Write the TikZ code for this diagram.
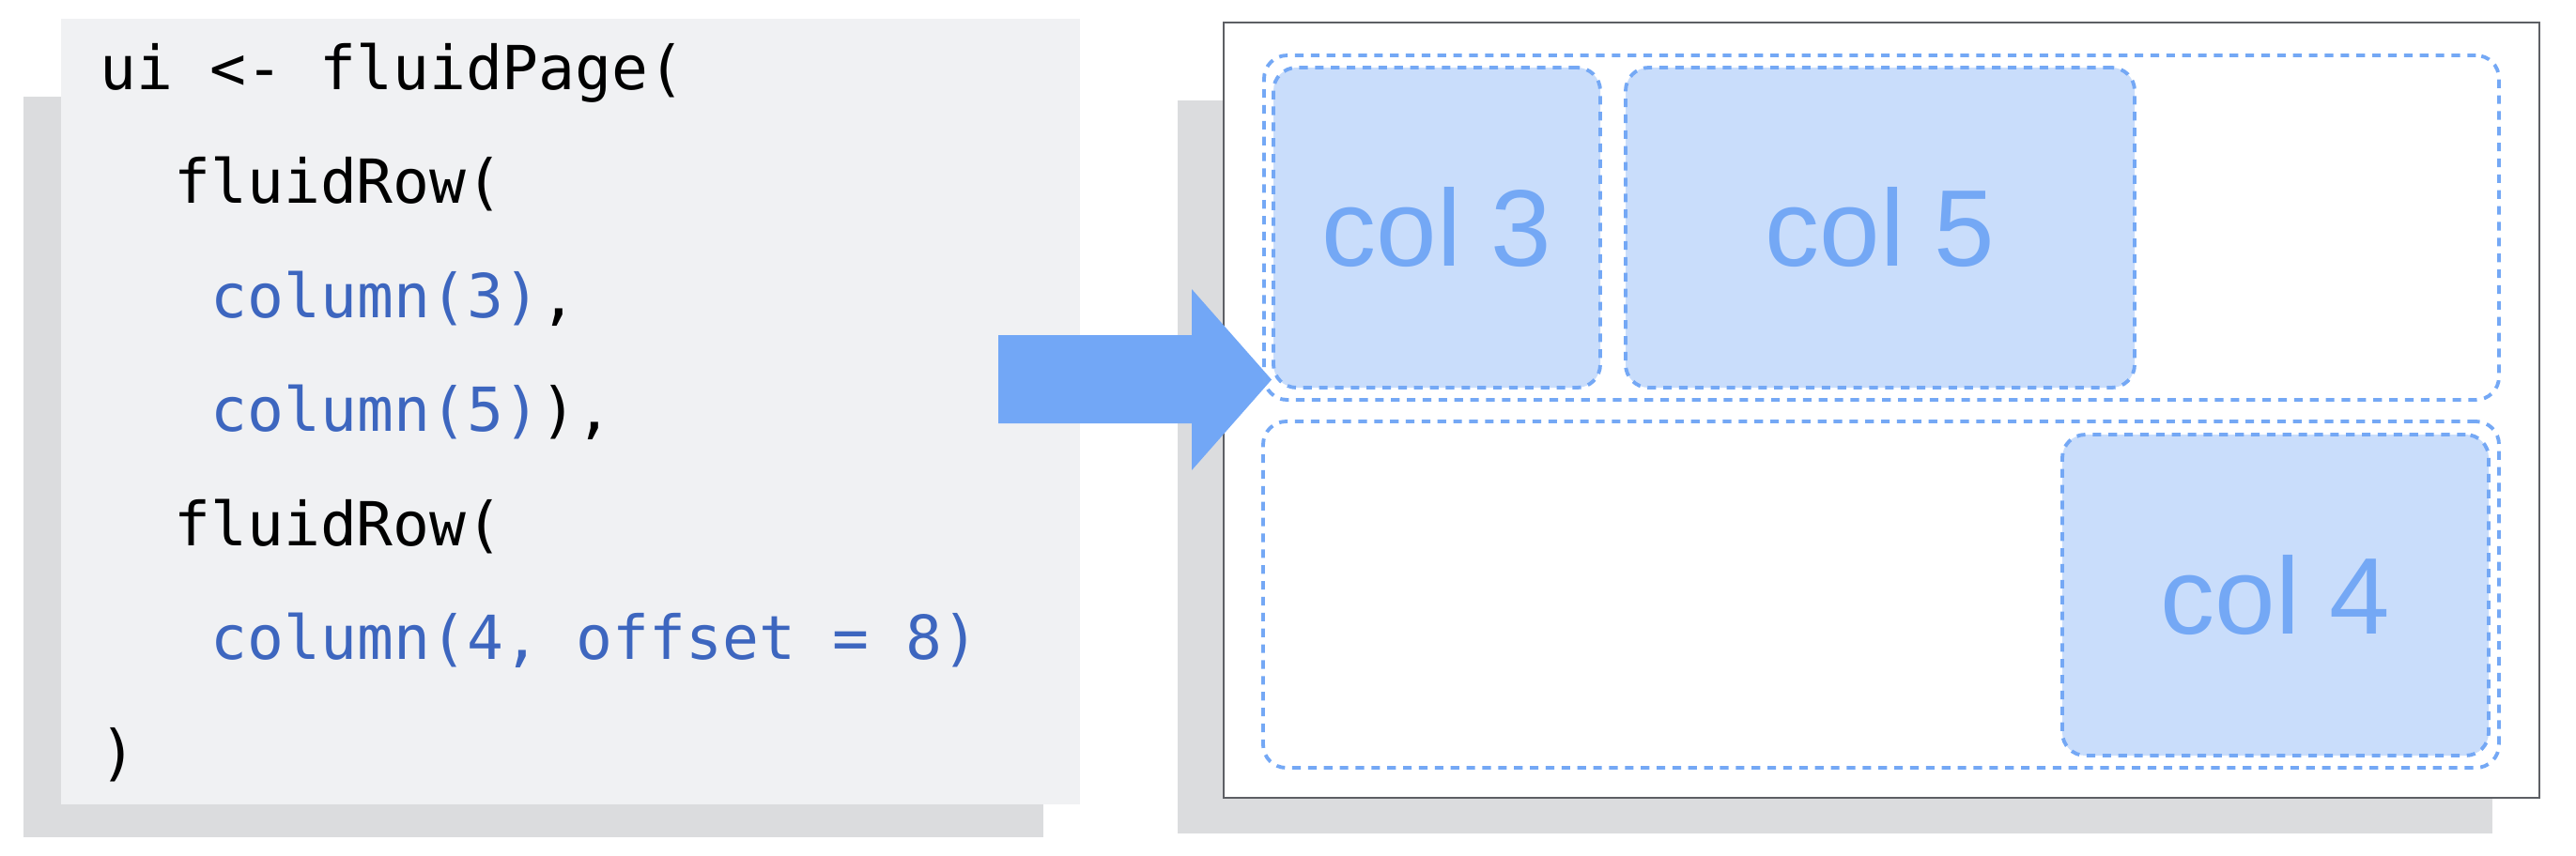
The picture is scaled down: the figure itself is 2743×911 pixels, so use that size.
\documentclass[tikz,border=0pt]{standalone}
\usepackage{fontspec}
\setmainfont{Liberation Sans}
\newfontfamily\codefont{DejaVu Sans Mono}
\usetikzlibrary{positioning}

\definecolor{codebg}{HTML}{F0F1F3}
\definecolor{shadowgray}{HTML}{DBDCDE}
\definecolor{codeblue}{HTML}{3D66BF}
\definecolor{arrowblue}{HTML}{72A7F6}
\definecolor{colfill}{HTML}{C9DDFB}
\definecolor{dashblue}{HTML}{74A8F5}
\definecolor{framegray}{HTML}{5D5F64}

\tikzset{
  codeline/.style={anchor=base west, inner sep=0pt, font=\codefont\fontsize{18.4}{22}\selectfont},
  rowbox/.style={draw=dashblue, line width=1.1pt, dash pattern=on 2.6pt off 2.2pt, rounded corners=7pt, inner sep=0pt},
  colbox/.style={rowbox, fill=colfill, text=dashblue, font=\fontsize{33}{40}\selectfont}
}

\begin{document}
\begin{tikzpicture}[x=0.1mm, y=-0.1mm]
    \useasboundingbox (0,0) rectangle (2743,911);

    % Draw code panel and its shadow
    \fill[shadowgray] (25,103) rectangle (1111,892);
    \fill[codebg] (65,20) rectangle (1150,857);

    % Code lines
    \foreach \n/\ind/\txt in {1/0/{ui <- fluidPage(}, 2/2/{fluidRow(}, 3/3/{\textcolor{codeblue}{column(3)},}, 4/3/{\textcolor{codeblue}{column(5)}),}, 5/2/{fluidRow(}, 6/3/{\textcolor{codeblue}{column(4, offset = 8)}}, 7/0/{)}} {
      \node[codeline] (line\n) at ({106+39.3*\ind}, {95+121.5*(\n-1)}) {\txt};
    }

    % Draw page frame and its shadow
    \fill[shadowgray] (1254,107) rectangle (2654,888);
    \draw[framegray, line width=0.6pt, fill=white] (1303,24) rectangle (2704,850);

    % Arrow
    \fill[arrowblue] (1063,357) -- (1269,357) -- (1269,308) -- (1354,404.5) -- (1269,501) -- (1269,451) -- (1063,451) -- cycle;

    % Rows
    \node[rowbox, minimum width=131.5mm, minimum height=36.7mm] (row1) at (2003.5,242.5) {};
    \node[rowbox, minimum width=131.6mm, minimum height=36.9mm] (row2) at (2003,633.5) {};

    % Columns
    \node[colbox, minimum width=34.8mm, minimum height=34.1mm] (col3) at (1530,242.5) {col 3};
    \node[colbox, minimum width=54.2mm, minimum height=34.1mm] (col5) at (2002,242.5) {col 5};
    \node[colbox, minimum width=45.4mm, minimum height=34.2mm] (col4) at (2423,634) {col 4};

\end{tikzpicture}
\end{document}
